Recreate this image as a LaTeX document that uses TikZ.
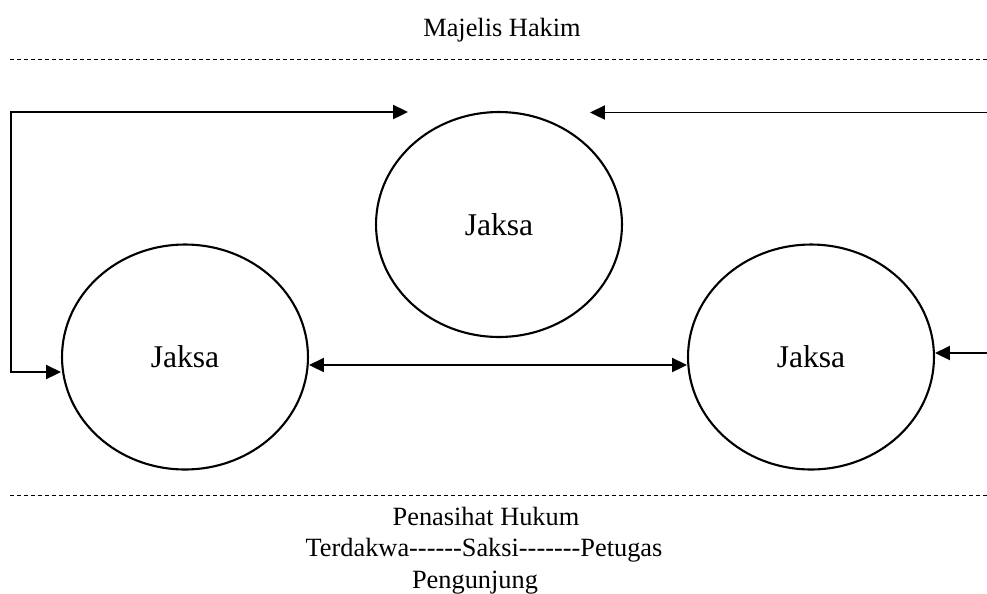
\documentclass[tikz,border=0pt]{standalone}
\usepackage{fontspec}
\newfontfamily\hurufteks{Liberation Serif}
\usetikzlibrary{positioning}
\usetikzlibrary{arrows.meta}
\usetikzlibrary{shapes}
\tikzset{
        % Jaksa nodes
        node_jaksa/.style={ellipse, draw=black, line width=1.2pt, inner sep=0pt, minimum width=4.92cm, minimum height=4.5cm, font=\hurufteks\fontsize{18}{22}\selectfont},
        % Plain text labels
        node_teks/.style={inner sep=0pt, anchor=base, font=\hurufteks\fontsize{15}{18}\selectfont},
        % Dashed separators
        garis_putus/.style={line width=0.5pt, dash pattern=on 0.08cm off 0.06cm},
        % Arrows
        panah/.style={line width=1.1pt, -{Triangle[length=8.5pt,width=8pt]}},
        panah_dua/.style={line width=1.1pt, {Triangle[length=8.5pt,width=8pt]}-{Triangle[length=8.5pt,width=8pt]}}
}
\begin{document}
\begin{tikzpicture}[x=0.02cm, y=-0.02cm]
            \useasboundingbox (0,0) rectangle (987,593);
            % top and bottom labels
            \node[node_teks] (majelis) at (502,36) {Majelis Hakim};
            \node[node_teks] (penasihat) at (486,525) {Penasihat Hukum};
            \node[node_teks] (pihak) at (484,556) {Terdakwa------Saksi-------Petugas};
            \node[node_teks] (pengunjung) at (475,588) {Pengunjung};
            \draw[garis_putus] (10,59) -- (987,59);
            \draw[garis_putus] (10,495) -- (987,495);
            % circles
            \node[node_jaksa] (jaksa_atas) at (499,224.5) {Jaksa};
            \node[node_jaksa] (jaksa_kiri) at (185,357) {Jaksa};
            \node[node_jaksa] (jaksa_kanan) at (811,357) {Jaksa};
            % arrow ends
            \coordinate (kiri_atas) at (11,112);
            \coordinate (kiri_bawah) at (11,372);
            \coordinate (ujung_kiri) at (408,112);
            \coordinate (ujung_kanan) at (590,112.5);
            \coordinate (kanan_atas) at (987,112.5);
            \coordinate (kanan_bawah) at (987,353);
            \draw[panah_dua] (ujung_kiri) -- (kiri_atas) -- (kiri_bawah) -- (kiri_bawah -| jaksa_kiri.west);
            \draw[panah] (kanan_atas) -- (ujung_kanan);
            \draw[panah] (kanan_bawah) -- (kanan_bawah -| jaksa_kanan.east);
            \draw[panah_dua] ([yshift=-0.16cm]jaksa_kiri.east) -- ([yshift=-0.16cm]jaksa_kanan.west);
        \end{tikzpicture}
\end{document}
